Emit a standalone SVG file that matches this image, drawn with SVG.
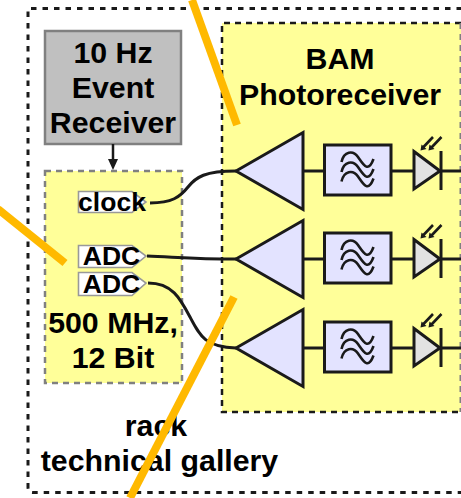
<svg xmlns="http://www.w3.org/2000/svg" width="461" height="498" viewBox="0 0 461 498">
<defs>
<style>
text{font-family:"Liberation Sans",Arial,sans-serif;font-weight:bold;fill:#000;text-anchor:middle}
.t{font-size:30.3px}
.l{font-size:26.5px}
.amp,.flt{fill:#e3e3ff;stroke:#1a1a1a;stroke-width:3}
.dio{fill:#e2e2e2;stroke:#1a1a1a;stroke-width:3}
.w{fill:none;stroke:#1a1a1a;stroke-width:3}
.port{fill:#fff;stroke:#999;stroke-width:1.6}
.or{stroke:#ffb900;stroke-width:8;fill:none}
.wv{fill:none;stroke:#1a1a1a;stroke-width:2.6}
.ar{fill:none;stroke:#1a1a1a;stroke-width:2.6}
</style>
<path id="wave" class="wv" d="M341.500 162C344 151 353 150 358 157S368 174 373.500 159"/>
<g id="chain">
<path class="w" d="M303 171H325M391 171H414M441 171H461"/>
<polygon class="amp" points="236,171 303,132.500 303,209.500"/>
<rect class="flt" x="324.500" y="145" width="66.500" height="50"/>
<use href="#wave"/>
<use href="#wave" y="10"/>
<use href="#wave" y="19.500"/>
<polygon class="dio" points="414,151.500 440,171 414,189"/>
<path class="w" d="M441 151V190"/>
<path class="ar" d="M433 137L423 147.500M441.500 137L431 148"/>
<polygon points="420.500,150.500 421.500,144.500 426.500,149" fill="#1a1a1a"/>
<polygon points="428.500,150.500 429.500,144.500 434.500,149" fill="#1a1a1a"/>
</g>
</defs>
<rect width="461" height="498" fill="#fff"/>
<g id="rack">
<path d="M462 8.500H28V487Q28 492.500 33 492.500H462" fill="#fff" stroke="#1a1a1a" stroke-width="3" stroke-dasharray="5.500 6"/>
<text class="t" x="156" y="436">rack</text>
<text class="t" x="159.500" y="471">technical gallery</text>
</g>
<g id="event-receiver">
<rect x="45" y="31" width="136" height="113" fill="#c0c0c0" stroke="#808080" stroke-width="2.500"/>
<text class="t" x="113" y="63">10 Hz</text>
<text class="t" x="113" y="98">Event</text>
<text class="t" x="113" y="133">Receiver</text>
</g>
<g id="adc-board">
<rect x="45" y="171" width="137" height="212" fill="#ffff99" stroke="#808080" stroke-width="2.500" stroke-dasharray="6 5"/>
<text class="t" x="113" y="333">500 MHz,</text>
<text class="t" x="113" y="368">12 Bit</text>
</g>
<g id="clock-port">
<polygon class="port" points="78.500,191.500 132,191.500 146,202 132,212.500 78.500,212.500"/>
<text class="l" x="112" y="211">clock</text>
</g>
<g id="adc-port-1">
<polygon class="port" points="78.500,245.500 132,245.500 146,256 132,267.500 78.500,267.500"/>
<text class="l" x="111.500" y="265">ADC</text>
</g>
<g id="adc-port-2">
<polygon class="port" points="78.500,272.500 132,272.500 146,283 132,295.500 78.500,295.500"/>
<text class="l" x="111.500" y="293">ADC</text>
</g>
<g id="bam-photoreceiver">
<rect x="222" y="23" width="239" height="389" fill="#ffff99"/>
<path d="M461 23H222V412H461" fill="none" stroke="#1a1a1a" stroke-width="2.500" stroke-dasharray="6 5"/>
<path d="M460.500 23V412" fill="none" stroke="#808080" stroke-width="2" stroke-dasharray="6 5"/>
<text class="t" x="340" y="69">BAM</text>
<text class="t" x="340" y="105">Photoreceiver</text>
</g>
<g id="channel-1"><use href="#chain"/></g>
<g id="channel-2"><use href="#chain" y="88"/></g>
<g id="channel-3"><use href="#chain" y="177"/></g>
<g id="connectors">
<path d="M113 144V160" fill="none" stroke="#1a1a1a" stroke-width="2.500"/>
<polygon points="108,159 118,159 113,170" fill="#1a1a1a"/>
<path class="w" d="M150 203C172 203 180 197 188 187S205 171 236 171"/>
<path class="w" d="M147 256C175 257 195 259 236 259"/>
<path class="w" d="M148 283C172 283 180 298 190 317S205 347 236 348"/>
<path class="or" d="M192 0L237 125"/>
<path class="or" d="M-2 209L65 263"/>
<path class="or" d="M234 297L130 498"/>
</g>
</svg>
